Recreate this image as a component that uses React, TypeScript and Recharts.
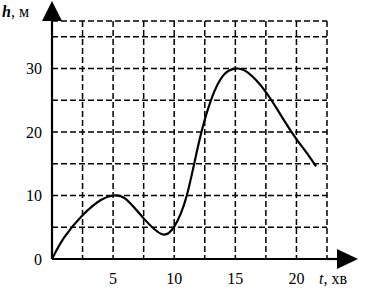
import React from "react";
import { LineChart, Line, XAxis, YAxis, CartesianGrid } from "recharts";

const tValues = [0, 1, 2.5, 4, 5, 6, 7.5, 9, 10, 11, 12, 13, 14, 15, 16, 17.5, 19, 20, 21, 21.6];
const hValues = [0, 3.4, 6.9, 9.3, 10, 9.5, 6.4, 3.9, 5.1, 9.8, 18.2, 25.0, 28.9, 30, 29.4, 26.3, 21.8, 18.9, 16.3, 14.6];
const xTicks = [0, 2.5, 5, 7.5, 10, 12.5, 15, 17.5, 20, 22.5];
const xLabels = [5, 10, 15, 20];
const yTicks = [0, 5, 10, 15, 20, 25, 30, 35, 37.5];
const yLabels = [0, 10, 20, 30];
const xTitle = "t";
const xUnit = ", хв";
const yTitle = "h";
const yUnit = ", м";

const data = tValues.map((t, i) => ({ t, h: hValues[i] }));
const FONT = "Liberation Serif";

const XArrow = (props: any) => {
  const vb = props.viewBox || {};
  const x = vb.x + vb.width;
  const y = vb.y;
  return (
    <g>
      <line x1={x} y1={y} x2={x + 14} y2={y} stroke="#000" strokeWidth={2.2} />
      <polygon points={`${x + 10},${y - 10} ${x + 31},${y} ${x + 10},${y + 10}`} fill="#000" />
      <text x={x - 8} y={y + 25} style={{ fontFamily: FONT }} fontSize={16} fill="#000">
        <tspan fontStyle="italic">{xTitle}</tspan>
        <tspan>{xUnit}</tspan>
      </text>
    </g>
  );
};

const YArrow = (props: any) => {
  const vb = props.viewBox || {};
  const x = vb.x + vb.width;
  const y = vb.y;
  return (
    <g>
      <polygon points={`${x - 10},${y} ${x},${y - 20} ${x + 10},${y}`} fill="#000" />
      <text x={2} y={y - 4} style={{ fontFamily: FONT }} fontSize={16} fill="#000">
        <tspan fontStyle="italic" fontWeight="bold">{yTitle}</tspan>
        <tspan>{yUnit}</tspan>
      </text>
    </g>
  );
};

export default function App() {
  return (
    <div style={{ position: "fixed", left: 0, top: 0, width: 368, height: 292, background: "#fff", fontFamily: FONT }}>
      <LineChart width={368} height={292} data={data} margin={{ top: 21, right: 41, bottom: 8, left: 12 }} style={{ fontFamily: FONT }}>
        <CartesianGrid stroke="#000" strokeWidth={1.5} strokeDasharray="6 3" />
        <XAxis
          dataKey="t"
          type="number"
          domain={[0, 22.5]}
          ticks={xTicks}
          interval={0}
          tickFormatter={(v: number) => (xLabels.includes(v) ? String(v) : "")}
          tickLine={false}
          axisLine={{ stroke: "#000", strokeWidth: 2.2 }}
          height={25}
          tick={{ fill: "#000", fontFamily: FONT, fontSize: 16, dy: 6, style: { fontFamily: FONT } }}
          label={<XArrow />}
        />
        <YAxis
          type="number"
          domain={[0, 37.5]}
          ticks={yTicks}
          interval={0}
          tickFormatter={(v: number) => (yLabels.includes(v) ? String(v) : "")}
          tickLine={false}
          axisLine={{ stroke: "#000", strokeWidth: 2.2 }}
          width={40}
          tickMargin={4}
          tick={{ fill: "#000", fontFamily: FONT, fontSize: 16, style: { fontFamily: FONT } }}
          label={<YArrow />}
        />
        <Line
          type="natural"
          dataKey="h"
          stroke="#000"
          strokeWidth={2.2}
          dot={false}
          isAnimationActive={false}
        />
      </LineChart>
    </div>
  );
}
